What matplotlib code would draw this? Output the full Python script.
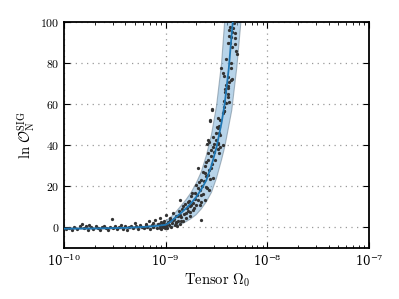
import numpy as np
import matplotlib
matplotlib.use("Agg")
import matplotlib.pyplot as plt
from matplotlib.ticker import FuncFormatter

plt.rcParams['mathtext.fontset'] = 'cm'
plt.rcParams['font.family'] = 'serif'

# mean curve and 1-sigma band (log10 Omega, ln O)
curve_logx = [-10.0, -9.7, -9.4, -9.2, -9.1, -9.0, -8.95, -8.9, -8.85, -8.8, -8.75,
              -8.7, -8.65, -8.6, -8.55, -8.5, -8.45, -8.42, -8.38, -8.34, -8.3, -8.2]
curve_mean = [-0.6, -0.5, -0.2, 0.3, 0.7, 1.3, 2.8, 5.0, 7.0, 9.3, 11.8,
              14.8, 18.5, 23.0, 30.0, 39.0, 51.0, 60.0, 77.0, 100.0, 125.0, 200.0]

band_logx = [-10.0, -9.5, -9.2, -9.1, -9.0, -8.95, -8.9, -8.85, -8.8, -8.75, -8.7,
             -8.65, -8.6, -8.55, -8.5, -8.45, -8.42, -8.4, -8.35, -8.3, -8.26,
             -8.2, -8.1]
band_hi = [-0.3, 0.0, 0.5, 1.5, 3.0, 5.0, 7.5, 10.5, 13.5, 17.0, 21.5,
           27.0, 35.0, 45.0, 59.0, 80.0, 100.0, 112.0, 145.0, 185.0, 220.0,
           280.0, 400.0]
band_lo = [-0.8, -0.7, -0.6, -0.5, -0.3, 0.0, 0.7, 1.5, 2.8, 4.3, 6.2,
           9.0, 12.5, 17.0, 24.0, 33.0, 39.0, 44.0, 57.0, 78.0, 100.0,
           135.0, 230.0]

# individual realisations
pts_logx = [
    -9.98, -9.95, -9.92, -9.90, -9.87, -9.84, -9.82, -9.80, -9.78, -9.76, -9.75, -9.73,
    -9.71, -9.69, -9.67, -9.65, -9.63, -9.61, -9.59, -9.57, -9.55, -9.53, -9.52, -9.50,
    -9.48, -9.46, -9.44, -9.42, -9.40, -9.38, -9.36, -9.34, -9.32, -9.30, -9.29, -9.27,
    -9.25, -9.23, -9.21, -9.19, -9.18, -9.16, -9.15, -9.13, -9.12, -9.10, -9.09, -9.07,
    -9.06, -9.05, -9.04, -9.03, -9.02, -9.01, -9.00,
    -9.08, -9.06, -9.05, -9.03, -9.02, -9.00, -8.99, -8.98, -8.97, -8.96, -8.95, -8.94,
    -8.93, -8.91, -8.90, -8.89, -8.88, -8.86, -8.85,
    -9.189, -9.125, -9.059, -9.026, -8.993, -8.961, -8.928, -8.895, -8.863, -8.863,
    -8.830, -8.830, -8.797, -8.781, -8.765, -8.765, -8.748, -8.732, -8.716, -8.683,
    -8.683, -8.667, -8.650, -8.650, -8.650, -8.618, -8.618, -8.601, -8.601, -8.585,
    -8.585, -8.585, -8.569, -8.552, -8.552, -8.536, -8.487, -8.471, -8.471,
    -8.92, -8.90, -8.88, -8.87, -8.85, -8.84, -8.82, -8.81, -8.80, -8.79, -8.78, -8.77,
    -8.76, -8.75, -8.74, -8.73, -8.72, -8.71, -8.70, -8.70, -8.69, -8.68, -8.67, -8.66,
    -8.65, -8.64, -8.63, -8.63, -8.62, -8.61, -8.60, -8.59, -8.58, -8.57, -8.56, -8.55,
    -8.54, -8.53, -8.52, -8.51, -8.50, -8.49,
    -8.595, -8.575, -8.523, -8.487, -8.438, -8.536, -8.464, -8.503, -8.471, -8.461,
    -8.487, -8.477, -8.497, -8.559, -8.562, -8.461, -8.487, -8.546, -8.546, -8.422,
    -8.429, -8.438, -8.431, -8.422, -8.405, -8.373, -8.385, -8.389, -8.412, -8.412,
    -8.382, -8.389, -8.405, -8.373, -8.356, -8.346, -8.389, -8.431, -8.438, -8.451,
    -8.353, -8.356, -8.405, -8.301, -8.307, -8.346, -8.320, -8.363, -8.389, -8.314,
    -8.356, -8.379, -8.317, -8.346, -8.379, -8.333, -8.363, -8.324,
]
pts_y = [
    -0.8, -0.3, -1.0, 0.2, -0.6, 0.5, 1.6, -0.4, 0.9, -1.1, 1.3, 0.1,
    -0.7, 0.6, -0.2, -1.3, 0.3, 0.9, -0.5, -1.0, 0.4, 4.1, -0.3, 0.8,
    -0.9, 0.2, 1.1, -0.6, 0.5, -1.2, 0.0, 0.9, -0.4, 2.1, 0.6, -0.8,
    1.2, 0.3, -0.5, 1.5, 0.1, 2.9, -0.7, 1.0, 0.4, 3.6, -0.3, 1.8,
    0.7, -0.9, 2.3, 0.2, 1.2, -0.5, 0.8,
    1.5, -0.2, 2.5, 0.5, 3.0, 1.8, -0.4, 2.6, 1.0, 4.5, 0.3, 2.0,
    3.5, 1.2, 2.8, 0.6, 5.5, 1.5, 3.0,
    1.3, 2.1, 4.6, 2.1, 6.2, 3.7, 7.0, 2.1, 6.2, 13.5,
    2.9, 10.2, 7.0, 12.6, 10.2, 5.4, 15.1, 8.6, 16.7, 19.2,
    28.9, 11.0, 15.9, 23.2, 3.7, 13.5, 26.4, 19.9, 32.1, 25.6,
    36.2, 42.6, 18.3, 28.9, 37.8, 24.0, 41.0, 49.1, 36.2,
    4.0, 5.5, 3.2, 8.0, 5.0, 9.0, 6.5, 11.5, 4.5, 9.5, 8.0, 13.0,
    7.5, 11.0, 17.0, 12.0, 9.5, 14.0, 20.5, 11.0, 16.0, 13.5, 22.0, 18.0,
    12.5, 20.0, 27.0, 16.5, 22.5, 30.0, 25.0, 19.0, 33.0, 28.0, 23.5, 35.0,
    31.0, 44.0, 36.5, 33.0, 46.0, 38.0,
    40.7, 41.8, 40.7, 40.7, 40.2, 39.1, 39.1, 42.6, 45.9, 44.8,
    48.3, 49.4, 48.8, 52.0, 52.4, 52.4, 53.2, 57.2, 57.6, 56.7,
    56.9, 55.6, 58.8, 61.7, 60.4, 61.3, 63.4, 65.0, 66.1, 67.6,
    67.7, 68.8, 69.3, 70.9, 72.0, 72.1, 73.0, 73.8, 75.0, 77.4,
    77.5, 80.2, 82.0, 84.3, 86.0, 88.0, 89.3, 89.6, 89.9, 92.1,
    92.9, 93.2, 94.5, 95.3, 96.1, 96.9, 97.4, 99.4,
]

curve_x = 10.0 ** np.array(curve_logx)
band_x = 10.0 ** np.array(band_logx)
pts_x = 10.0 ** np.array(pts_logx)

fig = plt.figure(figsize=(3.99, 2.99), dpi=100)
ax = fig.add_axes([0.1604, 0.1706, 0.7644, 0.7558])

ax.fill_between(band_x, band_lo, band_hi, facecolor='#7fb2d8', alpha=0.55,
                edgecolor='#6a7f90', linewidth=0.8, zorder=2)
ax.scatter(pts_x, pts_y, s=5.5, color='#333333', linewidths=0, zorder=3)
ax.plot(curve_x, curve_mean, color='#1f77b4', lw=1.3, zorder=4)

ax.set_xscale('log')
ax.set_xlim(1e-10, 1e-7)
ax.set_ylim(-10, 100)
ax.set_yticks([0, 20, 40, 60, 80, 100])
ax.yaxis.set_major_formatter(FuncFormatter(lambda v, p: r'$%d$' % v))

ax.grid(True, which='major', linestyle=(0, (1, 3.5)), color='0.6', linewidth=0.9)
ax.tick_params(which='both', direction='in', top=True, right=True, labelsize=8.5)
ax.tick_params(which='major', length=4, width=0.8)
ax.tick_params(which='minor', length=2.2, width=0.6)
for sp in ax.spines.values():
    sp.set_linewidth(1.3)

ax.set_xlabel(r'$\mathrm{Tensor}\ \Omega_0$', fontsize=10.5, labelpad=2)
ax.set_ylabel(r'$\ln\,\mathcal{O}_{\rm N}^{\rm SIG}$', fontsize=10.5, labelpad=2)

fig.savefig('out.png', dpi=100)
